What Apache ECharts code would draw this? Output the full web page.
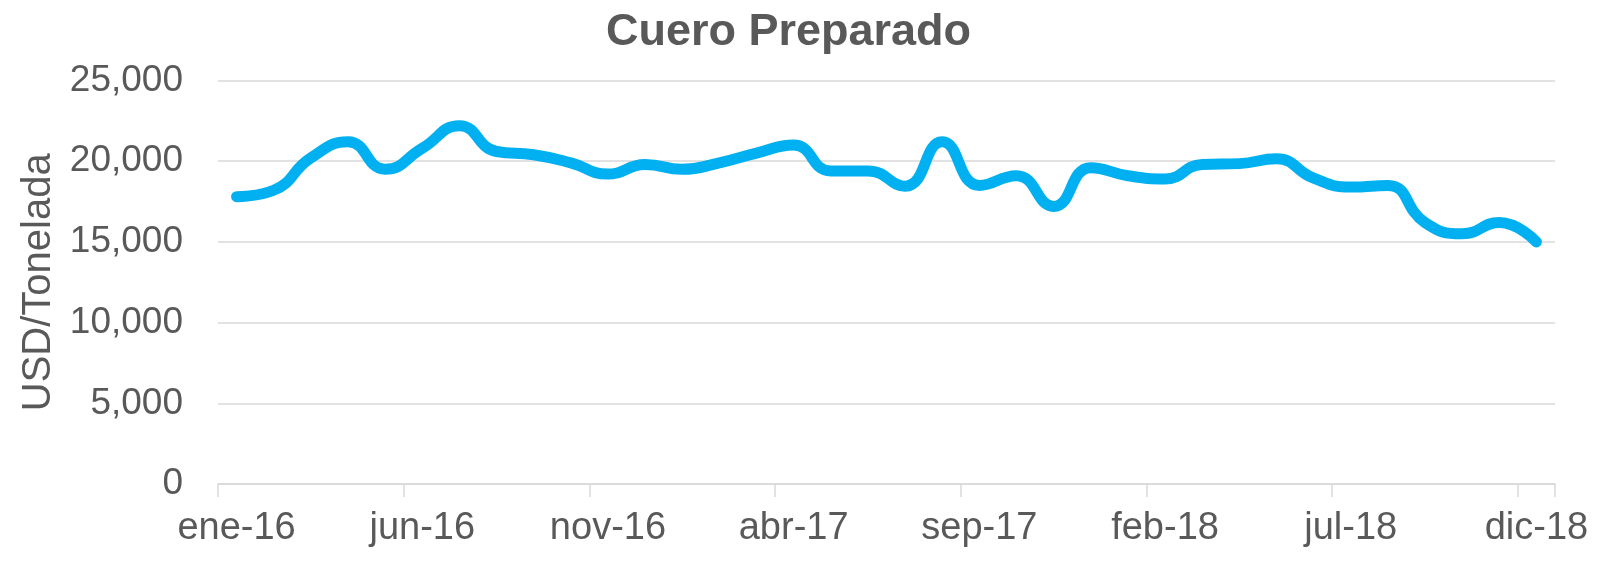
<!DOCTYPE html>
<html>
<head>
<meta charset="utf-8">
<script src="https://cdn.jsdelivr.net/npm/echarts@6/dist/echarts.min.js"></script>
<style>
html,body{margin:0;padding:0;background:#fff;}
#chart{width:1602px;height:565px;}
</style>
</head>
<body>
<div id="chart"></div>
<script>
const titleText = 'Cuero Preparado';
const yAxisName = 'USD/Tonelada';
const categories = [
  'ene-16','feb-16','mar-16','abr-16','may-16','jun-16','jul-16','ago-16','sep-16','oct-16','nov-16','dic-16',
  'ene-17','feb-17','mar-17','abr-17','may-17','jun-17','jul-17','ago-17','sep-17','oct-17','nov-17','dic-17',
  'ene-18','feb-18','mar-18','abr-18','may-18','jun-18','jul-18','ago-18','sep-18','oct-18','nov-18','dic-18'
];
const values = [
  17800,18200,20200,21200,19500,20800,22200,20600,20400,19900,19200,19800,
  19500,19900,20500,21000,19400,19400,18450,21200,18500,19100,17200,19600,
  19100,18900,19800,19850,20150,18950,18400,18500,16200,15500,16200,15000
];
const yTicks = [0, 5000, 10000, 15000, 20000, 25000];

const chart = echarts.init(document.getElementById('chart'), null, {renderer:'canvas'});
const txt = '#595959';
const fam = '"Liberation Sans", Arial, sans-serif';
chart.setOption({
  animation:false,
  title:{
    text:titleText, left:601, top:5,
    textStyle:{fontFamily:fam, fontSize:45, fontWeight:'bold', color:txt}
  },
  grid:{left:218, right:47, top:80.5, bottom:81, containLabel:false},
  xAxis:{
    type:'category', data:categories, boundaryGap:true,
    axisLine:{show:true, lineStyle:{color:'#d9d9d9', width:1.5}},
    axisTick:{show:true, interval:4, length:13, lineStyle:{color:'#d9d9d9', width:1.5}},
    axisLabel:{interval:4, margin:26, color:txt, fontFamily:fam, fontSize:38},
    splitLine:{show:false}
  },
  yAxis:{
    type:'value', min:yTicks[0], max:yTicks[yTicks.length-1], interval:yTicks[1]-yTicks[0],
    name:yAxisName, nameLocation:'middle', nameGap:155, nameRotate:90,
    nameTextStyle:{color:txt, fontFamily:fam, fontSize:40},
    axisLine:{show:false}, axisTick:{show:false},
    axisLabel:{margin:35, color:txt, fontFamily:fam, fontSize:37,
      formatter:function(v){return v.toLocaleString('en-US');}},
    splitLine:{lineStyle:{color:'#d9d9d9', width:1.5}}
  },
  series:[{
    type:'line', data:values, smooth:0.5, showSymbol:false, symbol:'none',
    lineStyle:{color:'#00B0F0', width:11, cap:'round', join:'round'}
  }]
});
</script>
</body>
</html>
